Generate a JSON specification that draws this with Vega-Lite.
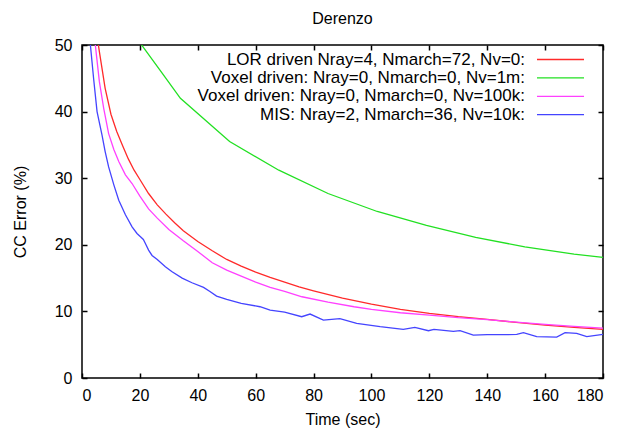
{
  "$schema": "https://vega.github.io/schema/vega-lite/v6.json",
  "width": 521,
  "height": 333,
  "autosize": "none",
  "padding": {"left": 82, "top": 45, "right": 20, "bottom": 52},
  "background": "white",
  "title": {"text": "Derenzo", "font": "Liberation Sans", "fontSize": 16, "fontWeight": "normal", "color": "black", "frame": "group", "offset": 10},
  "config": {
    "view": {"stroke": "black", "strokeWidth": 1.5},
    "axis": {
      "domain": false, "grid": false, "ticks": true, "tickSize": -5, "tickWidth": 1.5, "tickColor": "black",
      "labelFont": "Liberation Sans", "labelFontSize": 16, "labelColor": "black",
      "titleFont": "Liberation Sans", "titleFontSize": 16, "titleFontWeight": "normal", "titleColor": "black"
    }
  },
  "datasets": {
    "curves": [
      {"s": "LOR driven Nray=4, Nmarch=72, Nv=0:", "t": 3, "e": 62},
      {"s": "LOR driven Nray=4, Nmarch=72, Nv=0:", "t": 4, "e": 56},
      {"s": "LOR driven Nray=4, Nmarch=72, Nv=0:", "t": 5, "e": 52},
      {"s": "LOR driven Nray=4, Nmarch=72, Nv=0:", "t": 6, "e": 49},
      {"s": "LOR driven Nray=4, Nmarch=72, Nv=0:", "t": 8, "e": 43.5},
      {"s": "LOR driven Nray=4, Nmarch=72, Nv=0:", "t": 10, "e": 39.6},
      {"s": "LOR driven Nray=4, Nmarch=72, Nv=0:", "t": 12, "e": 37},
      {"s": "LOR driven Nray=4, Nmarch=72, Nv=0:", "t": 14, "e": 34.9},
      {"s": "LOR driven Nray=4, Nmarch=72, Nv=0:", "t": 16, "e": 32.9},
      {"s": "LOR driven Nray=4, Nmarch=72, Nv=0:", "t": 18, "e": 31.2},
      {"s": "LOR driven Nray=4, Nmarch=72, Nv=0:", "t": 20, "e": 29.8},
      {"s": "LOR driven Nray=4, Nmarch=72, Nv=0:", "t": 23, "e": 27.7},
      {"s": "LOR driven Nray=4, Nmarch=72, Nv=0:", "t": 26, "e": 26.0},
      {"s": "LOR driven Nray=4, Nmarch=72, Nv=0:", "t": 29, "e": 24.6},
      {"s": "LOR driven Nray=4, Nmarch=72, Nv=0:", "t": 32, "e": 23.3},
      {"s": "LOR driven Nray=4, Nmarch=72, Nv=0:", "t": 35, "e": 22.1},
      {"s": "LOR driven Nray=4, Nmarch=72, Nv=0:", "t": 40, "e": 20.5},
      {"s": "LOR driven Nray=4, Nmarch=72, Nv=0:", "t": 45, "e": 19.1},
      {"s": "LOR driven Nray=4, Nmarch=72, Nv=0:", "t": 50, "e": 17.8},
      {"s": "LOR driven Nray=4, Nmarch=72, Nv=0:", "t": 55, "e": 16.8},
      {"s": "LOR driven Nray=4, Nmarch=72, Nv=0:", "t": 60, "e": 15.9},
      {"s": "LOR driven Nray=4, Nmarch=72, Nv=0:", "t": 65, "e": 15.1},
      {"s": "LOR driven Nray=4, Nmarch=72, Nv=0:", "t": 70, "e": 14.4},
      {"s": "LOR driven Nray=4, Nmarch=72, Nv=0:", "t": 75, "e": 13.7},
      {"s": "LOR driven Nray=4, Nmarch=72, Nv=0:", "t": 80, "e": 13.1},
      {"s": "LOR driven Nray=4, Nmarch=72, Nv=0:", "t": 90, "e": 12.0},
      {"s": "LOR driven Nray=4, Nmarch=72, Nv=0:", "t": 100, "e": 11.1},
      {"s": "LOR driven Nray=4, Nmarch=72, Nv=0:", "t": 110, "e": 10.3},
      {"s": "LOR driven Nray=4, Nmarch=72, Nv=0:", "t": 120, "e": 9.7},
      {"s": "LOR driven Nray=4, Nmarch=72, Nv=0:", "t": 130, "e": 9.2},
      {"s": "LOR driven Nray=4, Nmarch=72, Nv=0:", "t": 140, "e": 8.8},
      {"s": "LOR driven Nray=4, Nmarch=72, Nv=0:", "t": 150, "e": 8.35},
      {"s": "LOR driven Nray=4, Nmarch=72, Nv=0:", "t": 160, "e": 7.95},
      {"s": "LOR driven Nray=4, Nmarch=72, Nv=0:", "t": 170, "e": 7.6},
      {"s": "LOR driven Nray=4, Nmarch=72, Nv=0:", "t": 180, "e": 7.3},

      {"s": "Voxel driven: Nray=0, Nmarch=0, Nv=1m:", "t": 17, "e": 55},
      {"s": "Voxel driven: Nray=0, Nmarch=0, Nv=1m:", "t": 20.6, "e": 50},
      {"s": "Voxel driven: Nray=0, Nmarch=0, Nv=1m:", "t": 27, "e": 46.2},
      {"s": "Voxel driven: Nray=0, Nmarch=0, Nv=1m:", "t": 34, "e": 42},
      {"s": "Voxel driven: Nray=0, Nmarch=0, Nv=1m:", "t": 51, "e": 35.5},
      {"s": "Voxel driven: Nray=0, Nmarch=0, Nv=1m:", "t": 68, "e": 31.2},
      {"s": "Voxel driven: Nray=0, Nmarch=0, Nv=1m:", "t": 85, "e": 27.7},
      {"s": "Voxel driven: Nray=0, Nmarch=0, Nv=1m:", "t": 102, "e": 25.0},
      {"s": "Voxel driven: Nray=0, Nmarch=0, Nv=1m:", "t": 119, "e": 22.9},
      {"s": "Voxel driven: Nray=0, Nmarch=0, Nv=1m:", "t": 136, "e": 21.1},
      {"s": "Voxel driven: Nray=0, Nmarch=0, Nv=1m:", "t": 153, "e": 19.7},
      {"s": "Voxel driven: Nray=0, Nmarch=0, Nv=1m:", "t": 170, "e": 18.6},
      {"s": "Voxel driven: Nray=0, Nmarch=0, Nv=1m:", "t": 180, "e": 18.1},

      {"s": "Voxel driven: Nray=0, Nmarch=0, Nv=100k:", "t": 3, "e": 58},
      {"s": "Voxel driven: Nray=0, Nmarch=0, Nv=100k:", "t": 4, "e": 53},
      {"s": "Voxel driven: Nray=0, Nmarch=0, Nv=100k:", "t": 4.6, "e": 50},
      {"s": "Voxel driven: Nray=0, Nmarch=0, Nv=100k:", "t": 6, "e": 44.5},
      {"s": "Voxel driven: Nray=0, Nmarch=0, Nv=100k:", "t": 7.5, "e": 40.5},
      {"s": "Voxel driven: Nray=0, Nmarch=0, Nv=100k:", "t": 9.2, "e": 36.7},
      {"s": "Voxel driven: Nray=0, Nmarch=0, Nv=100k:", "t": 11, "e": 34.3},
      {"s": "Voxel driven: Nray=0, Nmarch=0, Nv=100k:", "t": 12.7, "e": 32.5},
      {"s": "Voxel driven: Nray=0, Nmarch=0, Nv=100k:", "t": 15, "e": 30.5},
      {"s": "Voxel driven: Nray=0, Nmarch=0, Nv=100k:", "t": 17.3, "e": 29.2},
      {"s": "Voxel driven: Nray=0, Nmarch=0, Nv=100k:", "t": 20, "e": 27.3},
      {"s": "Voxel driven: Nray=0, Nmarch=0, Nv=100k:", "t": 23, "e": 25.4},
      {"s": "Voxel driven: Nray=0, Nmarch=0, Nv=100k:", "t": 26, "e": 24.0},
      {"s": "Voxel driven: Nray=0, Nmarch=0, Nv=100k:", "t": 30, "e": 22.3},
      {"s": "Voxel driven: Nray=0, Nmarch=0, Nv=100k:", "t": 35, "e": 20.6},
      {"s": "Voxel driven: Nray=0, Nmarch=0, Nv=100k:", "t": 40, "e": 19.0},
      {"s": "Voxel driven: Nray=0, Nmarch=0, Nv=100k:", "t": 45, "e": 17.3},
      {"s": "Voxel driven: Nray=0, Nmarch=0, Nv=100k:", "t": 50, "e": 16.2},
      {"s": "Voxel driven: Nray=0, Nmarch=0, Nv=100k:", "t": 55, "e": 15.3},
      {"s": "Voxel driven: Nray=0, Nmarch=0, Nv=100k:", "t": 60, "e": 14.4},
      {"s": "Voxel driven: Nray=0, Nmarch=0, Nv=100k:", "t": 65, "e": 13.6},
      {"s": "Voxel driven: Nray=0, Nmarch=0, Nv=100k:", "t": 70, "e": 13.0},
      {"s": "Voxel driven: Nray=0, Nmarch=0, Nv=100k:", "t": 76, "e": 12.2},
      {"s": "Voxel driven: Nray=0, Nmarch=0, Nv=100k:", "t": 85, "e": 11.4},
      {"s": "Voxel driven: Nray=0, Nmarch=0, Nv=100k:", "t": 94, "e": 10.7},
      {"s": "Voxel driven: Nray=0, Nmarch=0, Nv=100k:", "t": 100, "e": 10.3},
      {"s": "Voxel driven: Nray=0, Nmarch=0, Nv=100k:", "t": 110, "e": 9.8},
      {"s": "Voxel driven: Nray=0, Nmarch=0, Nv=100k:", "t": 120, "e": 9.45},
      {"s": "Voxel driven: Nray=0, Nmarch=0, Nv=100k:", "t": 130, "e": 9.05},
      {"s": "Voxel driven: Nray=0, Nmarch=0, Nv=100k:", "t": 140, "e": 8.75},
      {"s": "Voxel driven: Nray=0, Nmarch=0, Nv=100k:", "t": 150, "e": 8.4},
      {"s": "Voxel driven: Nray=0, Nmarch=0, Nv=100k:", "t": 160, "e": 8.05},
      {"s": "Voxel driven: Nray=0, Nmarch=0, Nv=100k:", "t": 170, "e": 7.75},
      {"s": "Voxel driven: Nray=0, Nmarch=0, Nv=100k:", "t": 180, "e": 7.5},

      {"s": "MIS: Nray=2, Nmarch=36, Nv=10k:", "t": 2, "e": 58},
      {"s": "MIS: Nray=2, Nmarch=36, Nv=10k:", "t": 2.9, "e": 50},
      {"s": "MIS: Nray=2, Nmarch=36, Nv=10k:", "t": 4, "e": 45},
      {"s": "MIS: Nray=2, Nmarch=36, Nv=10k:", "t": 5.2, "e": 40},
      {"s": "MIS: Nray=2, Nmarch=36, Nv=10k:", "t": 6.9, "e": 36.5},
      {"s": "MIS: Nray=2, Nmarch=36, Nv=10k:", "t": 8, "e": 34},
      {"s": "MIS: Nray=2, Nmarch=36, Nv=10k:", "t": 9.2, "e": 31.7},
      {"s": "MIS: Nray=2, Nmarch=36, Nv=10k:", "t": 11, "e": 29},
      {"s": "MIS: Nray=2, Nmarch=36, Nv=10k:", "t": 12.7, "e": 26.7},
      {"s": "MIS: Nray=2, Nmarch=36, Nv=10k:", "t": 15, "e": 24.5},
      {"s": "MIS: Nray=2, Nmarch=36, Nv=10k:", "t": 17.3, "e": 22.7},
      {"s": "MIS: Nray=2, Nmarch=36, Nv=10k:", "t": 19, "e": 21.7},
      {"s": "MIS: Nray=2, Nmarch=36, Nv=10k:", "t": 20.2, "e": 21.2},
      {"s": "MIS: Nray=2, Nmarch=36, Nv=10k:", "t": 21.2, "e": 20.8},
      {"s": "MIS: Nray=2, Nmarch=36, Nv=10k:", "t": 21.9, "e": 20.2},
      {"s": "MIS: Nray=2, Nmarch=36, Nv=10k:", "t": 23, "e": 19.2},
      {"s": "MIS: Nray=2, Nmarch=36, Nv=10k:", "t": 24.2, "e": 18.4},
      {"s": "MIS: Nray=2, Nmarch=36, Nv=10k:", "t": 26, "e": 17.8},
      {"s": "MIS: Nray=2, Nmarch=36, Nv=10k:", "t": 28.8, "e": 16.7},
      {"s": "MIS: Nray=2, Nmarch=36, Nv=10k:", "t": 31, "e": 16.0},
      {"s": "MIS: Nray=2, Nmarch=36, Nv=10k:", "t": 34.6, "e": 15.0},
      {"s": "MIS: Nray=2, Nmarch=36, Nv=10k:", "t": 38, "e": 14.3},
      {"s": "MIS: Nray=2, Nmarch=36, Nv=10k:", "t": 42, "e": 13.6},
      {"s": "MIS: Nray=2, Nmarch=36, Nv=10k:", "t": 44.2, "e": 13.0},
      {"s": "MIS: Nray=2, Nmarch=36, Nv=10k:", "t": 46.5, "e": 12.3},
      {"s": "MIS: Nray=2, Nmarch=36, Nv=10k:", "t": 50, "e": 11.8},
      {"s": "MIS: Nray=2, Nmarch=36, Nv=10k:", "t": 55, "e": 11.2},
      {"s": "MIS: Nray=2, Nmarch=36, Nv=10k:", "t": 61.5, "e": 10.7},
      {"s": "MIS: Nray=2, Nmarch=36, Nv=10k:", "t": 65, "e": 10.2},
      {"s": "MIS: Nray=2, Nmarch=36, Nv=10k:", "t": 70, "e": 9.9},
      {"s": "MIS: Nray=2, Nmarch=36, Nv=10k:", "t": 75.9, "e": 9.2},
      {"s": "MIS: Nray=2, Nmarch=36, Nv=10k:", "t": 78.8, "e": 9.6},
      {"s": "MIS: Nray=2, Nmarch=36, Nv=10k:", "t": 83.4, "e": 8.7},
      {"s": "MIS: Nray=2, Nmarch=36, Nv=10k:", "t": 89.1, "e": 8.9},
      {"s": "MIS: Nray=2, Nmarch=36, Nv=10k:", "t": 94.9, "e": 8.2},
      {"s": "MIS: Nray=2, Nmarch=36, Nv=10k:", "t": 103, "e": 7.7},
      {"s": "MIS: Nray=2, Nmarch=36, Nv=10k:", "t": 111, "e": 7.3},
      {"s": "MIS: Nray=2, Nmarch=36, Nv=10k:", "t": 115, "e": 7.6},
      {"s": "MIS: Nray=2, Nmarch=36, Nv=10k:", "t": 119.7, "e": 7.1},
      {"s": "MIS: Nray=2, Nmarch=36, Nv=10k:", "t": 121.6, "e": 7.3},
      {"s": "MIS: Nray=2, Nmarch=36, Nv=10k:", "t": 128.3, "e": 7.0},
      {"s": "MIS: Nray=2, Nmarch=36, Nv=10k:", "t": 130.6, "e": 7.1},
      {"s": "MIS: Nray=2, Nmarch=36, Nv=10k:", "t": 135.2, "e": 6.45},
      {"s": "MIS: Nray=2, Nmarch=36, Nv=10k:", "t": 140, "e": 6.5},
      {"s": "MIS: Nray=2, Nmarch=36, Nv=10k:", "t": 145, "e": 6.5},
      {"s": "MIS: Nray=2, Nmarch=36, Nv=10k:", "t": 150.2, "e": 6.55},
      {"s": "MIS: Nray=2, Nmarch=36, Nv=10k:", "t": 152.5, "e": 6.8},
      {"s": "MIS: Nray=2, Nmarch=36, Nv=10k:", "t": 157.1, "e": 6.2},
      {"s": "MIS: Nray=2, Nmarch=36, Nv=10k:", "t": 164, "e": 6.15},
      {"s": "MIS: Nray=2, Nmarch=36, Nv=10k:", "t": 166.9, "e": 6.8},
      {"s": "MIS: Nray=2, Nmarch=36, Nv=10k:", "t": 170.9, "e": 6.7},
      {"s": "MIS: Nray=2, Nmarch=36, Nv=10k:", "t": 174.4, "e": 6.2},
      {"s": "MIS: Nray=2, Nmarch=36, Nv=10k:", "t": 180, "e": 6.55}
    ]
  },
  "layer": [
    {
      "data": {"name": "curves"},
      "mark": {"type": "line", "clip": true, "strokeWidth": 1.3},
      "encoding": {
        "x": {"field": "t", "type": "quantitative", "scale": {"domain": [0, 180], "nice": false},
              "axis": {"orient": "bottom", "values": [0,20,40,60,80,100,120,140,160,180], "title": "Time (sec)", "labelPadding": 14, "titleY": 46, "titleBaseline": "alphabetic"}},
        "y": {"field": "e", "type": "quantitative", "scale": {"domain": [0, 50], "nice": false},
              "axis": {"orient": "left", "values": [0,10,20,30,40,50], "title": "CC Error (%)", "labelPadding": 15, "titleX": -57, "titleBaseline": "alphabetic"}},
        "color": {"field": "s", "type": "nominal",
          "scale": {"domain": ["LOR driven Nray=4, Nmarch=72, Nv=0:", "Voxel driven: Nray=0, Nmarch=0, Nv=1m:", "Voxel driven: Nray=0, Nmarch=0, Nv=100k:", "MIS: Nray=2, Nmarch=36, Nv=10k:"],
                    "range": ["#ff2a2a", "#22e022", "#ff40ff", "#4444ff"]},
          "legend": {"orient": "none", "legendX": 454, "legendY": 6, "title": null, "padding": 0,
                     "symbolType": "stroke", "symbolSize": 2209, "symbolStrokeWidth": 1.3,
                     "labelAlign": "right", "labelOffset": -60, "labelFont": "Liberation Sans", "labelFontSize": 17,
                     "labelColor": "black", "labelLimit": 500, "rowPadding": 0.4,
                     "encode": {"symbols": {"update": {"y": {"value": 8.5}}}, "labels": {"update": {"y": {"value": 8.5}}}}}}
      }
    },
    {
      "data": {"name": "curves"},
      "mark": {"type": "point", "opacity": 0, "clip": true},
      "encoding": {
        "x": {"field": "t", "type": "quantitative", "axis": {"orient": "top", "values": [0,20,40,60,80,100,120,140,160,180], "labels": false, "title": null}},
        "y": {"field": "e", "type": "quantitative", "axis": {"orient": "right", "values": [0,10,20,30,40,50], "labels": false, "title": null}}
      }
    }
  ],
  "resolve": {"axis": {"x": "independent", "y": "independent"}}
}
